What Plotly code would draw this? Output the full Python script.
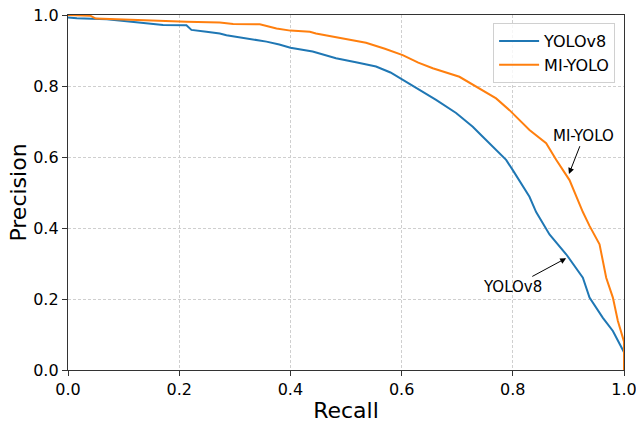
import plotly.graph_objects as go

# YOLOv8 PR curve
yolov8_recall = [0.000, 0.016, 0.070, 0.100, 0.123, 0.141, 0.171, 0.213, 0.222, 0.249,
                 0.273, 0.285, 0.321, 0.357, 0.380, 0.400, 0.440, 0.482, 0.520, 0.554,
                 0.580, 0.602, 0.626, 0.662, 0.698, 0.728, 0.746, 0.770, 0.788, 0.800,
                 0.818, 0.830, 0.842, 0.866, 0.896, 0.926, 0.938, 0.962, 0.980, 0.998, 1.000]
yolov8_precision = [0.993, 0.991, 0.988, 0.983, 0.978, 0.976, 0.972, 0.971, 0.958, 0.953,
                    0.948, 0.943, 0.934, 0.925, 0.917, 0.908, 0.897, 0.878, 0.866, 0.855,
                    0.838, 0.817, 0.793, 0.761, 0.724, 0.685, 0.657, 0.620, 0.592, 0.563,
                    0.516, 0.488, 0.445, 0.382, 0.326, 0.260, 0.204, 0.147, 0.110, 0.058, 0.050]

# MI-YOLO PR curve
miyolo_recall = [0.000, 0.040, 0.050, 0.100, 0.147, 0.213, 0.273, 0.297, 0.345, 0.375,
                 0.400, 0.435, 0.446, 0.490, 0.536, 0.570, 0.602, 0.630, 0.656, 0.704,
                 0.740, 0.770, 0.794, 0.830, 0.860, 0.878, 0.902, 0.926, 0.938, 0.956,
                 0.968, 0.980, 0.989, 0.998, 1.000, 1.000]
miyolo_precision = [1.000, 0.998, 0.990, 0.987, 0.984, 0.981, 0.979, 0.975, 0.974, 0.962,
                    0.956, 0.953, 0.948, 0.936, 0.922, 0.905, 0.887, 0.866, 0.850, 0.826,
                    0.793, 0.765, 0.732, 0.676, 0.639, 0.592, 0.535, 0.445, 0.406, 0.354,
                    0.260, 0.204, 0.138, 0.091, 0.080, 0.000]

tick_vals = [0.0, 0.2, 0.4, 0.6, 0.8, 1.0]
tick_text = ["0.0", "0.2", "0.4", "0.6", "0.8", "1.0"]

FONT = "DejaVu Sans"

fig = go.Figure()
fig.add_trace(go.Scatter(x=yolov8_recall, y=yolov8_precision, mode="lines", name="YOLOv8",
                         line=dict(color="#1f77b4", width=2)))
fig.add_trace(go.Scatter(x=miyolo_recall, y=miyolo_precision, mode="lines", name="MI-YOLO",
                         line=dict(color="#ff7f0e", width=2)))

fig.add_annotation(x=0.901, y=0.552, ax=0.928, ay=0.660, xref="x", yref="y", axref="x", ayref="y",
                   text="MI-YOLO", showarrow=True, arrowhead=2, arrowsize=1.2, arrowwidth=1,
                   arrowcolor="#000", font=dict(family=FONT, size=15, color="#000"))
fig.add_annotation(x=0.896, y=0.315, ax=0.800, ay=0.234, xref="x", yref="y", axref="x", ayref="y",
                   text="YOLOv8", showarrow=True, arrowhead=2, arrowsize=1.2, arrowwidth=1,
                   arrowcolor="#000", font=dict(family=FONT, size=15, color="#000"))

axis_common = dict(
    range=[0, 1], tickvals=tick_vals, ticktext=tick_text,
    showline=True, linecolor="#333", linewidth=1.3, mirror=True,
    ticks="outside", ticklen=5, tickwidth=1.3, tickcolor="#333",
    showgrid=True, gridcolor="#cfcfcf", gridwidth=1, griddash="3px,2px",
    zeroline=False, tickfont=dict(family=FONT, size=16, color="#000"),
    automargin=False, ticklabeloverflow="allow",
)

fig.update_xaxes(**axis_common, title=dict(text="Recall", font=dict(family=FONT, size=22, color="#000"), standoff=6))
fig.update_yaxes(**axis_common, title=dict(text="Precision", font=dict(family=FONT, size=22, color="#000"), standoff=0))

fig.update_layout(
    width=636, height=423,
    margin=dict(l=68, r=12, t=15, b=53, autoexpand=False),
    plot_bgcolor="white", paper_bgcolor="white",
    font=dict(family=FONT, color="#000"),
    legend=dict(x=0.984, y=0.977, xanchor="right", yanchor="top",
                bgcolor="rgba(255,255,255,0.8)", bordercolor="#d0d0d0", borderwidth=1,
                font=dict(family=FONT, size=16, color="#000"), tracegroupgap=2,
                itemwidth=40),
    showlegend=True,
)

# remove the default page margin so the figure fills the window exactly
fig.write_html("out.html", config={"displayModeBar": False},
               post_script="document.body.style.margin='0';")
